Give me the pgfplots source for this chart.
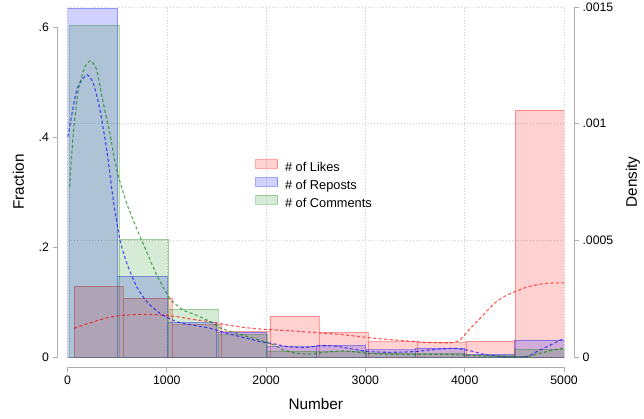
\documentclass[border=0pt]{standalone}
\usepackage{fontspec}
\setmainfont{Liberation Sans}
\usepackage{pgfplots}
\pgfplotsset{compat=1.18}

\definecolor{lkred}{RGB}{255,0,0}
\definecolor{rpblue}{RGB}{0,0,255}
\definecolor{cmgreen}{RGB}{0,128,0}
\definecolor{axgray}{RGB}{175,175,175}
\definecolor{gridgray}{RGB}{205,205,205}

\tikzset{
  likes/.style={fill=lkred, fill opacity=0.18, draw=lkred, draw opacity=0.35, line width=0.8pt},
  reposts/.style={fill=rpblue, fill opacity=0.18, draw=rpblue, draw opacity=0.35, line width=0.8pt},
  comments/.style={fill=cmgreen, fill opacity=0.16, draw=cmgreen, draw opacity=0.3, line width=0.8pt},
  kde/.style={line width=1.1pt, dash pattern=on 3.2pt off 2.3pt, draw opacity=0.65},
}
\pgfplotsset{
  base/.style={
    scale only axis, width=496.5pt, height=350pt,
    xmin=0, xmax=5000, at={(0,0)}, anchor=south west,
    scaled ticks=false,
    tick label style={font=\fontsize{12.3}{14}\selectfont},
    label style={font=\fontsize{15.3}{18}\selectfont},
  },
  every non boxed x axis/.style={},
  every non boxed y axis/.style={},
}

\begin{document}
\begin{tikzpicture}
\path[use as bounding box] (-67.5pt,-61pt) rectangle (576.5pt,357pt);

% dotted grid from the density scale
\begin{axis}[base, ymin=0, ymax=0.0015,
  xtick={0,1000,2000,3000,4000,5000},
  ytick={0,0.0005,0.001,0.0015},
  xticklabels={}, yticklabels={},
  grid=major, grid style={gridgray, line width=0.6pt, dash pattern=on 0.7pt off 2.3pt},
  axis line style={draw=none}, major tick length=0pt]
\end{axis}

% histograms (fraction scale)
\begin{axis}[base, ymin=0, ymax=0.636364,
  axis x line*=bottom, axis y line*=left,
  axis x line shift=10pt, axis y line shift=10pt,
  x axis line style={axgray, line width=0.8pt, -},
  y axis line style={axgray, line width=0.8pt, -, shorten >=20pt},
  xtick={0,1000,2000,3000,4000,5000},
  xticklabels={0,1000,2000,3000,4000,5000},
  ytick={0,0.2,0.4,0.6}, yticklabels={0,.2,.4,.6},
  tick align=outside, major tick length=5pt,
  tick style={axgray, line width=0.8pt},
  xlabel={Number}, ylabel={Fraction},
  xlabel style={at={(axis description cs:0.5,-0.1343)}, anchor=center},
  ylabel style={at={(axis description cs:-0.0987,0.5)}, anchor=center},
  legend style={draw=none, fill=none, font=\fontsize{12.8}{15}\selectfont,
    at={(rel axis cs:0.3777,0.5657)}, anchor=north west, inner sep=0pt,
    nodes={inner sep=0pt, text height=9.3pt, text depth=2.7pt},
    row sep=3pt, column sep=7pt},
  legend cell align=left]
\addplot[ybar interval, likes,
  legend image code/.code={\draw[likes] (0pt,0pt) rectangle (22pt,8.5pt);}]
  coordinates {(66,0.129) (559.4,0.107) (1052.8,0.059) (1546.2,0.046) (2039.6,0.0745)
    (2533,0.045) (3026.4,0.028) (3519.8,0.026) (4013.2,0.029) (4506.6,0.449) (5000,0.449)};
\addlegendentry{\# of Likes}
\addplot[ybar interval, reposts,
  legend image code/.code={\draw[reposts] (0pt,0pt) rectangle (22pt,8.5pt);}]
  coordinates {(4,0.634) (503.6,0.147) (1003.2,0.063) (1502.8,0.045) (2002.4,0.019)
    (2502,0.021) (3001.6,0.013) (3501.2,0.016) (4000.8,0.005) (4500.4,0.031) (5000,0.031)};
\addlegendentry{\# of Reposts}
\addplot[ybar interval, comments,
  legend image code/.code={\draw[comments] (0pt,0pt) rectangle (22pt,8.5pt);}]
  coordinates {(22,0.603) (519.8,0.214) (1017.6,0.087) (1515.4,0.041) (2013.2,0.011)
    (2511,0.010) (3008.8,0.007) (3506.6,0.007) (4004.4,0.0025) (4502.2,0.0145) (5000,0.0145)};
\addlegendentry{\# of Comments}
\end{axis}

% kernel density curves (density scale)
\begin{axis}[base, ymin=0, ymax=0.0015,
  axis x line=none, axis y line*=right, axis y line shift=10pt,
  y axis line style={axgray, line width=0.8pt, -},
  ytick={0,0.0005,0.001,0.0015}, yticklabels={0,.0005,.001,.0015},
  tick align=outside, major tick length=5pt,
  tick style={axgray, line width=0.8pt},
  ylabel={Density},
  ylabel style={at={(axis description cs:1.139,0.5)}, anchor=center}]
\addplot[kde, lkred, smooth, tension=0.4] coordinates {
  (66,1.23e-4) (260,1.51e-4) (428,1.71e-4) (596,1.80e-4) (764,1.83e-4) (932,1.80e-4)
  (1100,1.73e-4) (1267,1.61e-4) (1436,1.51e-4) (1604,1.38e-4) (1771,1.27e-4) (1940,1.20e-4)
  (2141,1.15e-4) (2376,1.08e-4) (2712,0.98e-4) (3014,0.84e-4) (3148,0.78e-4) (3380,0.70e-4)
  (3600,0.63e-4) (3780,0.61e-4) (3880,0.62e-4) (3950,0.72e-4) (4020,1.05e-4) (4100,1.42e-4)
  (4170,1.72e-4) (4230,2.00e-4) (4300,2.30e-4) (4370,2.52e-4) (4440,2.68e-4) (4520,2.82e-4)
  (4630,3.00e-4) (4760,3.12e-4) (4880,3.17e-4) (5000,3.18e-4)};
\addplot[kde, rpblue, smooth, tension=0.4] coordinates {
  (4,9.43e-4) (93,11.44e-4) (193,12.09e-4) (260,11.73e-4) (327,10.59e-4) (395,8.87e-4)
  (461,6.73e-4) (529,5.01e-4) (596,4.03e-4) (697,3.01e-4) (798,2.37e-4) (932,1.87e-4)
  (1100,1.51e-4) (1267,1.37e-4) (1436,1.23e-4) (1604,1.02e-4) (1805,0.80e-4) (1940,0.66e-4)
  (2073,0.57e-4) (2208,0.45e-4) (2376,0.40e-4) (2544,0.48e-4) (2712,0.46e-4) (2880,0.33e-4)
  (3048,0.23e-4) (3249,0.20e-4) (3484,0.23e-4) (3720,0.33e-4) (3887,0.37e-4) (4022,0.30e-4)
  (4088,0.23e-4) (4223,0.09e-4) (4425,0.01e-4) (4627,0.02e-4) (4727,0.23e-4) (4861,0.51e-4)
  (5000,0.80e-4)};
\addplot[kde, cmgreen, smooth, tension=0.4] coordinates {
  (22,7.30e-4) (58,9.59e-4) (109,11.44e-4) (176,12.44e-4) (234,12.69e-4) (294,12.30e-4)
  (361,10.87e-4) (428,9.55e-4) (496,8.01e-4) (596,6.59e-4) (697,5.50e-4) (798,4.50e-4)
  (900,3.50e-4) (1000,2.72e-4) (1050,2.40e-4) (1167,2.01e-4) (1267,1.84e-4) (1368,1.66e-4)
  (1469,1.44e-4) (1536,1.25e-4) (1737,0.97e-4) (1938,0.72e-4) (2073,0.52e-4) (2174,0.30e-4)
  (2309,0.16e-4) (2443,0.13e-4) (2577,0.20e-4) (2779,0.26e-4) (2980,0.18e-4) (3148,0.13e-4)
  (3383,0.11e-4) (3720,0.11e-4) (3955,0.09e-4) (4223,0.04e-4) (4492,0.01e-4) (4627,0.02e-4)
  (4761,0.16e-4) (4895,0.30e-4) (5000,0.38e-4)};
\end{axis}
\end{tikzpicture}
\end{document}
